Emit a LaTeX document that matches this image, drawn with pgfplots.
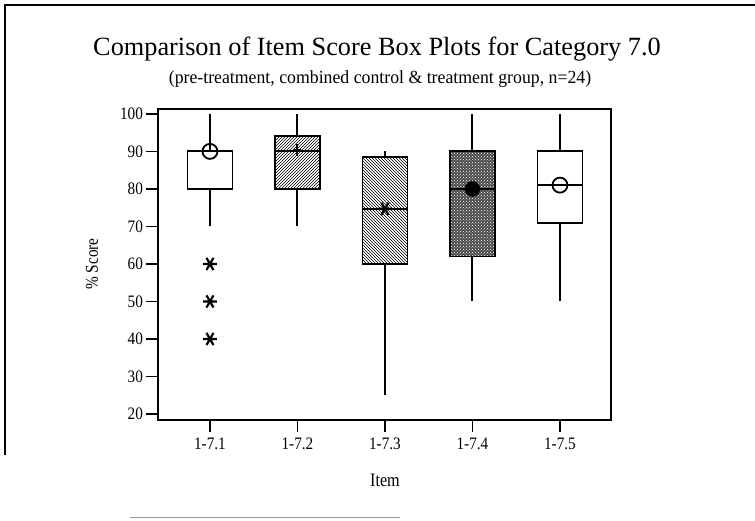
\documentclass[border=0pt]{standalone}
\usepackage{fontspec}
\setmainfont{Liberation Serif}
\usepackage{pgfplots}
\pgfplotsset{compat=1.18}
\usetikzlibrary{patterns}
\begin{document}
\begin{tikzpicture}[x=1pt,y=1pt]
\path[use as bounding box] (0,0) rectangle (755,521);
\draw[line width=2pt] (5,66) -- (5,516) -- (755,516);
\draw[line width=1pt, black!40] (130,3) -- (400,3);
\node[anchor=base, font=\fontsize{26.3}{30}\selectfont] at (377,465) {Comparison of Item Score Box Plots for Category 7.0};
\node[anchor=base, font=\fontsize{18.5}{22}\selectfont] at (380,437) {\scalebox{0.96}[1]{(pre-treatment, combined control \& treatment group, n=24)}};
\node[rotate=90, font=\fontsize{18}{20}\selectfont] at (92,257) {\scalebox{0.85}[1]{\% Score}};
\node[font=\fontsize{19}{22}\selectfont] at (385,41) {\scalebox{0.85}[1]{Item}};
\begin{axis}[
  at={(158pt,101pt)}, anchor=south west,
  scale only axis, width=452.7pt, height=311pt,
  xmin=0.406, xmax=5.58, ymin=18.4, ymax=101.3,
  xtick={1,2,3,4,5},
  xticklabels={1-7.1,1-7.2,1-7.3,1-7.4,1-7.5},
  ytick={20,30,...,100},
  tick pos=left, tick align=outside,
  major tick length=12pt,
  axis line style={line width=1.8pt},
  every tick/.style={black, line width=1.5pt},
  tick label style={font=\fontsize{17.5}{19}\selectfont, xscale=0.87},
  xticklabel style={yshift=-2pt},
  /pgf/number format/assume math mode=true,
]
% ---- boxes (quartiles) ----
\addplot[draw=black, line width=1.8pt, fill=white] coordinates {(0.743,80) (1.257,80) (1.257,90) (0.743,90)} -- cycle;
\addplot[draw=black, line width=1.8pt, pattern=north east lines] coordinates {(1.743,80) (2.257,80) (2.257,94.2) (1.743,94.2)} -- cycle;
\addplot[draw=black, line width=1.8pt, pattern=north west lines] coordinates {(2.743,60) (3.257,60) (3.257,88.6) (2.743,88.6)} -- cycle;
\addplot[draw=black, line width=1.8pt, fill=black!70, postaction={pattern=crosshatch dots, pattern color=white}] coordinates {(3.743,62) (4.257,62) (4.257,90) (3.743,90)} -- cycle;
\addplot[draw=black, line width=1.8pt, fill=white] coordinates {(4.743,71) (5.257,71) (5.257,90) (4.743,90)} -- cycle;
% ---- medians ----
\addplot[black, line width=1.8pt] coordinates {(0.743,90) (1.257,90)};
\addplot[black, line width=1.8pt] coordinates {(1.743,90) (2.257,90)};
\addplot[black, line width=1.8pt] coordinates {(2.743,74.7) (3.257,74.7)};
\addplot[black, line width=1.8pt] coordinates {(3.743,80) (4.257,80)};
\addplot[black, line width=1.8pt] coordinates {(4.743,81) (5.257,81)};
% ---- whiskers ----
\addplot[black, line width=2pt] coordinates {(1,70) (1,80)};
\addplot[black, line width=2pt] coordinates {(1,90) (1,100)};
\addplot[black, line width=2pt] coordinates {(2,70) (2,80)};
\addplot[black, line width=2pt] coordinates {(2,94.2) (2,100)};
\addplot[black, line width=2pt] coordinates {(3,25) (3,60)};
\addplot[black, line width=2pt] coordinates {(3,88.6) (3,90)};
\addplot[black, line width=2pt] coordinates {(4,50) (4,62)};
\addplot[black, line width=2pt] coordinates {(4,90) (4,100)};
\addplot[black, line width=2pt] coordinates {(5,50) (5,71)};
\addplot[black, line width=2pt] coordinates {(5,90) (5,100)};
% ---- means ----
\addplot[only marks, mark=o, mark size=7.5pt, mark options={line width=1.8pt, fill=white, draw=black}] coordinates {(1,90) (5,81)};
\addplot[only marks, mark=*, mark size=7.5pt, mark options={fill=black, draw=black}] coordinates {(4,80)};
\addplot[only marks, mark=+, mark size=6pt, mark options={line width=2pt, xscale=0.6, draw=black}] coordinates {(2,90.3)};
\addplot[only marks, mark=asterisk, mark size=7pt, mark options={line width=2.2pt, rotate=90, draw=black}] coordinates {(3,74.7)};
% ---- outliers ----
\addplot[only marks, mark=asterisk, mark size=7pt, mark options={line width=2.2pt, rotate=90, draw=black}] coordinates {(1,60) (1,50) (1,40)};
\end{axis}
\end{tikzpicture}
\end{document}
